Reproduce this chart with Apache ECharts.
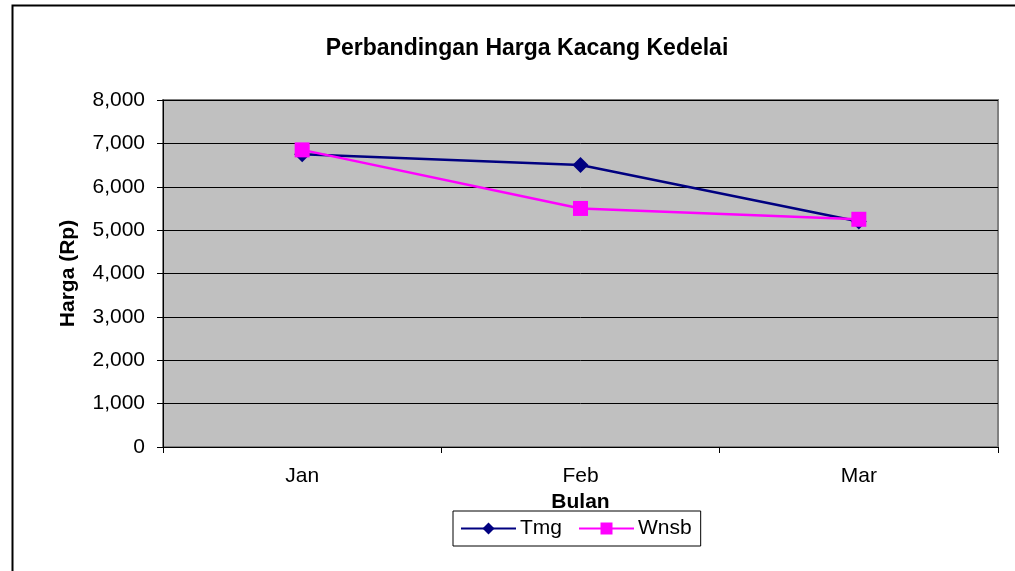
<!DOCTYPE html>
<html><head><meta charset="utf-8">
<script src="https://cdn.jsdelivr.net/npm/echarts@6/dist/echarts.min.js"></script>
<style>html,body{margin:0;padding:0;background:#fff}#c{width:1015px;height:571px}</style>
</head><body><div id="c"></div>
<script>
const categories = ['Jan', 'Feb', 'Mar'];
const tmg = [6750, 6500, 5200];
const wnsb = [6850, 5500, 5250];
const yTicks = { min: 0, max: 8000, interval: 1000 };

const chart = echarts.init(document.getElementById('c'), null, { renderer: 'canvas' });
const F = 'Liberation Sans, Arial, sans-serif';
chart.setOption({
  animation: false,
  backgroundColor: '#fff',
  title: {
    text: 'Perbandingan Harga Kacang Kedelai',
    left: 522, top: 32, textAlign: 'center',
    textStyle: { fontFamily: F, fontSize: 23, fontWeight: 'bold', color: '#000' }
  },
  graphic: [{
    type: 'rect', silent: true, z: -1,
    shape: { x: 12.5, y: 5.5, width: 1010, height: 600 },
    style: { fill: 'none', stroke: '#000', lineWidth: 2 }
  }],
  legend: {
    left: 453, top: 511, height: 36,
    padding: [7, 9, 7, 7],
    borderColor: '#000', borderWidth: 1,
    itemWidth: 55, itemHeight: 15, itemGap: 16,
    textStyle: { fontFamily: F, fontSize: 21, color: '#000', padding: [0, 0, 0, -1] },
    data: ['Tmg', 'Wnsb']
  },
  grid: { left: 163, top: 100, right: 17, bottom: 124, show: true, backgroundColor: '#C0C0C0', borderColor: '#808080', borderWidth: 2 },
  xAxis: {
    type: 'category', data: categories, boundaryGap: true,
    name: 'Bulan', nameLocation: 'middle', nameGap: 40,
    nameTextStyle: { fontFamily: F, fontSize: 21, fontWeight: 'bold', color: '#000' },
    axisLine: { lineStyle: { color: '#000', width: 1 } },
    axisTick: { show: true, length: 6, lineStyle: { color: '#000' } },
    axisLabel: { fontFamily: F, fontSize: 21, color: '#000', margin: 19 }
  },
  yAxis: {
    type: 'value', min: yTicks.min, max: yTicks.max, interval: yTicks.interval,
    name: 'Harga (Rp)', nameLocation: 'middle', nameGap: 84,
    nameTextStyle: { fontFamily: F, fontSize: 21, fontWeight: 'bold', color: '#000' },
    axisLine: { show: true, lineStyle: { color: '#000', width: 1 } },
    axisTick: { show: true, length: 6, lineStyle: { color: '#000' } },
    splitLine: { show: true, lineStyle: { color: '#000', width: 1 } },
    axisLabel: { fontFamily: F, fontSize: 21, color: '#000', margin: 18,
      formatter: v => v.toLocaleString('en-US') }
  },
  series: [
    { name: 'Tmg', type: 'line', data: tmg, symbol: 'diamond', symbolSize: 16,
      lineStyle: { color: '#000080', width: 2.5 }, itemStyle: { color: '#000080' }, z: 2 },
    { name: 'Wnsb', type: 'line', data: wnsb, symbol: 'rect', symbolSize: 15,
      lineStyle: { color: '#FF00FF', width: 2.5 }, itemStyle: { color: '#FF00FF' }, z: 3 }
  ]
});
</script></body></html>
